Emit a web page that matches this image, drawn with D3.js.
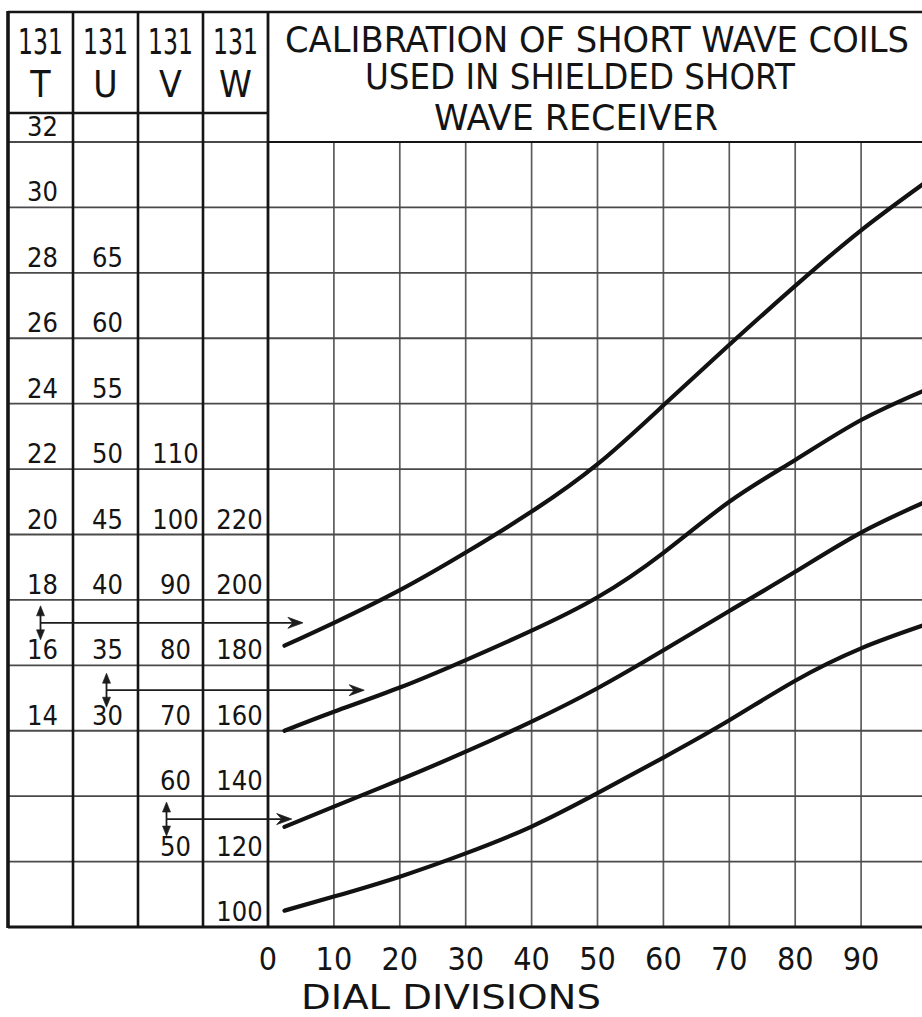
<!DOCTYPE html>
<html>
<head>
<meta charset="utf-8">
<title>Calibration of short wave coils</title>
<script src="https://cdn.jsdelivr.net/npm/d3@7"></script>
<style>
  html, body { margin: 0; padding: 0; background: #fff; }
  svg { display: block; }
  text { font-family: "DejaVu Sans Condensed", "DejaVu Sans", sans-serif; fill: #141414; }
</style>
</head>
<body>
<svg id="chart" width="922" height="1017"></svg>
<script>
// ---- data -------------------------------------------------------------
// Dial settings at which each coil's wavelength was read
const dialPoints = [2.5, 10, 20, 30, 40, 50, 60, 70, 80, 90, 100];
// Wavelength in metres for each plug-in coil (131 T, U, V, W)
const coilT = [16.6, 17.3, 18.3, 19.45, 20.7, 22.15, 23.95, 25.8, 27.6, 29.3, 30.8];
const coilU = [30.0, 31.45, 33.3, 35.4, 37.65, 40.2, 43.6, 47.5, 50.7, 53.75, 56.1];
const coilV = [55.3, 58.4, 62.5, 66.8, 71.4, 76.5, 82.3, 88.3, 94.3, 100.3, 105.1];
const coilW = [105.0, 109.3, 115.4, 122.5, 130.7, 140.9, 151.8, 163.2, 175.3, 185.2, 192.6];

// Coil names for the table header
const coilNames = ["T", "U", "V", "W"];
const coilPrefix = "131";

// Wavelength scale labels printed in each table column
const tLabels = [32, 30, 28, 26, 24, 22, 20, 18, 16, 14];
const uLabels = [65, 60, 55, 50, 45, 40, 35, 30];
const vLabels = [110, 100, 90, 80, 70, 60, 50];
const wLabels = [220, 200, 180, 160, 140, 120, 100];

// Full extent of each coil's wavelength scale (bottom line, top line)
const tDomain = [8, 32];
const uDomain = [15, 75];
const vDomain = [40, 160];
const wDomain = [100, 340];

// Dial divisions along the bottom
const dialTicks = [0, 10, 20, 30, 40, 50, 60, 70, 80, 90];
const dialDomain = [0, 100];

// Pointer arrows: coil, level in that coil's metres, dial division at the tip
const arrowCoils = ["T", "U", "V"];
const arrowLevels = [17.3, 33.1, 56.5];
const arrowTips = [5.3, 14.6, 3.6];

// Title lines
const titleLines = ["CALIBRATION OF SHORT WAVE COILS", "USED IN SHIELDED SHORT", "WAVE RECEIVER"];
const axisTitle = "DIAL DIVISIONS";

// ---- layout -----------------------------------------------------------
const W = 922, H = 1017;
const frameLeft = 8, frameTop = 12, headerBottom = 113;
const gridTop = 142, gridBottom = 927;
const tableRight = 268, plotRight = 927;

const svg = d3.select("#chart");
svg.append("rect").attr("width", W).attr("height", H).attr("fill", "#fff");

const x = d3.scaleLinear(dialDomain, [tableRight, plotRight]);
const yT = d3.scaleLinear(tDomain, [gridBottom, gridTop]);
const yU = d3.scaleLinear(uDomain, [gridBottom, gridTop]);
const yV = d3.scaleLinear(vDomain, [gridBottom, gridTop]);
const yW = d3.scaleLinear(wDomain, [gridBottom, gridTop]);
const coilScale = { T: yT, U: yU, V: yV, W: yW };
const col = d3.scaleBand(coilNames, [frameLeft, tableRight]);

// ---- grid -------------------------------------------------------------
const grid = svg.append("g");
// vertical dial lines across the plot
grid.selectAll("line.v")
  .data(d3.range(10, 101, 10))
  .join("line")
  .attr("x1", d => x(d)).attr("x2", d => x(d))
  .attr("y1", gridTop).attr("y2", gridBottom)
  .attr("stroke", "#5c5c5c").attr("stroke-width", 1.7);

// horizontal lines shared by the table and the plot
grid.selectAll("line.h")
  .data(d3.range(tDomain[0] + 2, tDomain[1] + 1, 2))
  .join("line")
  .attr("x1", frameLeft).attr("x2", W)
  .attr("y1", d => yT(d)).attr("y2", d => yT(d))
  .attr("stroke", "#4a4a4a").attr("stroke-width", 1.8);

// ---- table frame ------------------------------------------------------
const frame = svg.append("g").attr("stroke", "#151515").attr("fill", "none");
// column dividers
frame.selectAll("line.c")
  .data(coilNames.slice(1))
  .join("line")
  .attr("x1", d => col(d)).attr("x2", d => col(d))
  .attr("y1", frameTop).attr("y2", gridBottom)
  .attr("stroke-width", 2.6);
// table / plot divider
frame.append("line")
  .attr("x1", tableRight).attr("x2", tableRight)
  .attr("y1", frameTop).attr("y2", gridBottom)
  .attr("stroke-width", 2.8);
// left border
frame.append("line")
  .attr("x1", frameLeft).attr("x2", frameLeft)
  .attr("y1", frameTop - 1).attr("y2", gridBottom + 1)
  .attr("stroke-width", 3.6);
// top border
frame.append("line")
  .attr("x1", frameLeft).attr("x2", W)
  .attr("y1", frameTop).attr("y2", frameTop)
  .attr("stroke-width", 2.6);
// header underline
frame.append("line")
  .attr("x1", frameLeft).attr("x2", tableRight)
  .attr("y1", headerBottom).attr("y2", headerBottom)
  .attr("stroke-width", 2.6);
// bottom border
frame.append("line")
  .attr("x1", frameLeft).attr("x2", W)
  .attr("y1", gridBottom).attr("y2", gridBottom)
  .attr("stroke-width", 3.2);
// title box bottom
frame.append("line")
  .attr("x1", tableRight).attr("x2", W)
  .attr("y1", gridTop).attr("y2", gridTop)
  .attr("stroke-width", 2);

// ---- table header -----------------------------------------------------
const header = svg.append("g").attr("text-anchor", "middle");
header.selectAll("text.num")
  .data(coilNames)
  .join("text")
  .attr("x", d => col(d) + col.bandwidth() / 2)
  .attr("y", 54)
  .attr("font-size", 35)
  .attr("textLength", 45)
  .attr("lengthAdjust", "spacingAndGlyphs")
  .text(coilPrefix);
header.selectAll("text.name")
  .data(coilNames)
  .join("text")
  .attr("x", d => col(d) + col.bandwidth() / 2)
  .attr("y", 97)
  .attr("font-size", 37)
  .text(d => d);

// ---- wavelength labels in the table -----------------------------------
const labelSets = [
  { coil: "T", values: tLabels, dx: 2 },
  { coil: "U", values: uLabels, dx: 2 },
  { coil: "V", values: vLabels, dx: 5 },
  { coil: "W", values: wLabels, dx: 4 }
];
labelSets.forEach(set => {
  const y = coilScale[set.coil];
  svg.append("g").attr("text-anchor", "middle")
    .selectAll("text")
    .data(set.values)
    .join("text")
    .attr("x", col(set.coil) + col.bandwidth() / 2 + set.dx)
    .attr("y", d => y(d) - 6)
    .attr("font-size", 27)
    .text(d => d);
});

// ---- title ------------------------------------------------------------
const titleX = [597, 580, 576];
const titleW = [624, 430, 284];
const titleY = [52, 89, 130];
svg.append("g").attr("text-anchor", "middle")
  .selectAll("text")
  .data(titleLines)
  .join("text")
  .attr("x", (d, i) => titleX[i])
  .attr("y", (d, i) => titleY[i])
  .attr("font-size", 36)
  .attr("textLength", (d, i) => titleW[i])
  .attr("lengthAdjust", "spacingAndGlyphs")
  .text(d => d);

// ---- dial axis --------------------------------------------------------
svg.append("g").attr("text-anchor", "middle")
  .selectAll("text")
  .data(dialTicks)
  .join("text")
  .attr("x", d => x(d))
  .attr("y", 970)
  .attr("font-size", 32)
  .text(d => d);
svg.append("text")
  .attr("x", 451).attr("y", 1009)
  .attr("text-anchor", "middle")
  .attr("font-size", 33)
  .attr("textLength", 300)
  .attr("lengthAdjust", "spacingAndGlyphs")
  .text(axisTitle);

// ---- calibration curves -----------------------------------------------
const curves = [
  { coil: "T", values: coilT },
  { coil: "U", values: coilU },
  { coil: "V", values: coilV },
  { coil: "W", values: coilW }
];
curves.forEach(c => {
  const y = coilScale[c.coil];
  const line = d3.line()
    .x((d, i) => x(dialPoints[i]))
    .y(d => y(d))
    .curve(d3.curveNatural);
  svg.append("path")
    .attr("d", line(c.values))
    .attr("fill", "none")
    .attr("stroke", "#121212")
    .attr("stroke-width", 4.2)
    .attr("stroke-linecap", "round");
});

// ---- pointer arrows ---------------------------------------------------
const arrowDx = { T: 0, U: 1, V: -4 };
const arrows = svg.append("g").attr("stroke", "#1c1c1c").attr("fill", "#1c1c1c");
arrowCoils.forEach((coil, i) => {
  const y = coilScale[coil](arrowLevels[i]);
  const cx = col(coil) + col.bandwidth() / 2 + arrowDx[coil];
  const tip = x(arrowTips[i]);
  // horizontal pointer
  arrows.append("line")
    .attr("x1", cx).attr("x2", tip - 4)
    .attr("y1", y).attr("y2", y)
    .attr("stroke-width", 1.8);
  arrows.append("path")
    .attr("d", `M${tip},${y} L${tip - 15},${y - 5.5} L${tip - 10},${y} L${tip - 15},${y + 5.5} Z`)
    .attr("stroke-width", 0.8);
  // vertical double-headed marker
  arrows.append("line")
    .attr("x1", cx).attr("x2", cx)
    .attr("y1", y - 14).attr("y2", y + 14)
    .attr("stroke-width", 1.8);
  arrows.append("path")
    .attr("d", `M${cx},${y - 17} L${cx - 4},${y - 7} L${cx + 4},${y - 7} Z`)
    .attr("stroke-width", 0.6);
  arrows.append("path")
    .attr("d", `M${cx},${y + 17} L${cx - 4},${y + 7} L${cx + 4},${y + 7} Z`)
    .attr("stroke-width", 0.6);
});
</script>
</body>
</html>
